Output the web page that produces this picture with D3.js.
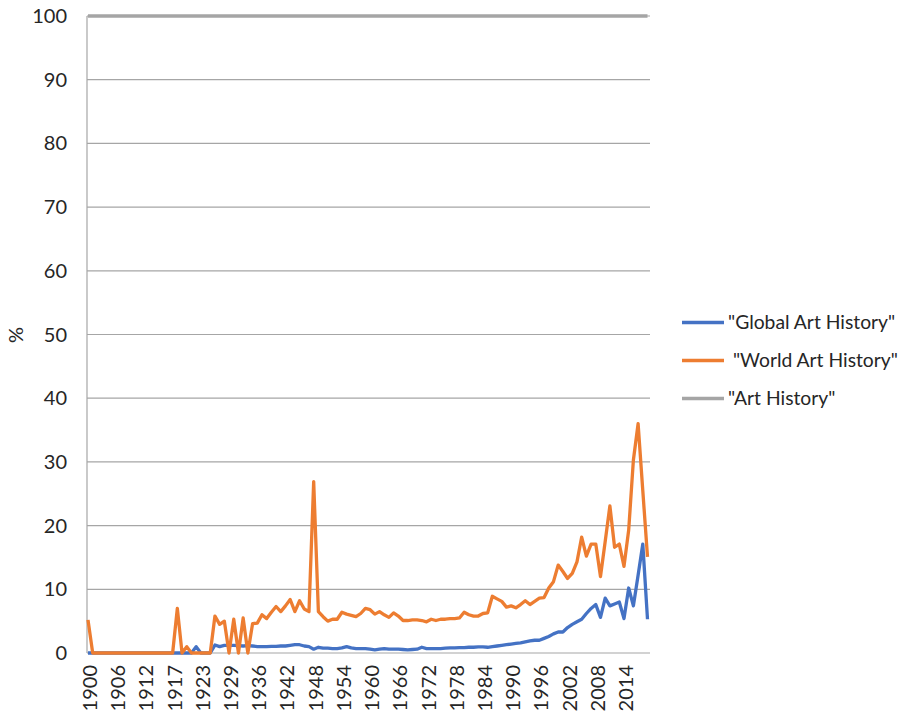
<!DOCTYPE html>
<html>
<head>
<meta charset="utf-8">
<script src="https://cdn.jsdelivr.net/npm/d3@7"></script>
<style>
  body { margin: 0; background: #fff; }
  text { font-family: Lato, "Liberation Sans", sans-serif; fill: #262626; }
</style>
</head>
<body>
<svg id="chart" width="902" height="715"></svg>
<script>
// years along the x axis (as they appear in the source data)
var categories = [
  1900,1901,1902,1903,1904,1905,1906,1907,1908,1909,1910,1911,1912,1913,1913,1914,1915,1916,1917,1918,
  1919,1920,1921,1922,1923,1924,1925,1926,1927,1928,1929,1931,1932,1933,1934,1935,1936,1937,1938,1939,
  1940,1941,1942,1943,1944,1945,1946,1947,1948,1949,1950,1951,1952,1953,1954,1955,1956,1957,1958,1959,
  1960,1961,1962,1963,1964,1965,1966,1967,1968,1969,1970,1971,1972,1973,1974,1975,1976,1977,1978,1979,
  1980,1981,1982,1983,1984,1985,1986,1987,1988,1989,1990,1991,1992,1993,1994,1995,1996,1997,1998,1999,
  2000,2001,2002,2003,2004,2005,2006,2007,2008,2009,2010,2011,2012,2013,2014,2015,2016,2017,2018,2019
];

var globalArt = [
  0,0,0,0,0,0,0,0,0,0,0,0,0,0,0,0,0,0,0,0,
  0,0,0,1.0,0,0,0,1.25,1.0,1.2,1.2,1.2,1.15,1.1,1.15,1.1,1.0,1.0,1.0,1.05,
  1.05,1.1,1.1,1.2,1.3,1.3,1.1,1.0,0.6,0.9,0.75,0.75,0.7,0.7,0.8,1.0,0.8,0.7,0.7,0.7,
  0.6,0.5,0.6,0.7,0.6,0.6,0.6,0.55,0.5,0.55,0.6,0.9,0.7,0.7,0.7,0.7,0.75,0.8,0.8,0.85,
  0.85,0.9,0.9,0.95,0.95,0.9,1.0,1.1,1.2,1.3,1.4,1.5,1.6,1.75,1.9,2.0,2.0,2.3,2.6,3.0,
  3.3,3.3,4.0,4.5,4.9,5.3,6.2,7.0,7.6,5.6,8.6,7.4,7.7,8.0,5.4,10.2,7.4,12.2,17.1,5.3
];

var worldArt = [
  5.2,0,0,0,0,0,0,0,0,0,0,0,0,0,0,0,0,0,0,7.0,
  0,1.0,0,0,0,0,0,5.8,4.5,5.0,0,5.3,0,5.5,0,4.6,4.7,6.0,5.4,6.4,
  7.3,6.5,7.4,8.4,6.5,8.2,6.9,6.5,26.9,6.5,5.7,5.0,5.3,5.3,6.4,6.1,5.9,5.7,6.2,7.0,
  6.8,6.1,6.5,6.0,5.6,6.3,5.8,5.1,5.1,5.2,5.2,5.1,4.9,5.3,5.1,5.3,5.3,5.4,5.4,5.5,
  6.4,6.0,5.8,5.8,6.2,6.3,8.9,8.5,8.1,7.2,7.4,7.1,7.6,8.2,7.6,8.1,8.6,8.7,10.2,11.2,
  13.8,12.8,11.7,12.5,14.3,18.2,15.2,17.1,17.1,12.0,17.5,23.1,16.6,17.1,13.6,19.3,30.3,36.0,25.5,15.1
];

var artHistory = [
  100,100,100,100,100,100,100,100,100,100,100,100,100,100,100,100,100,100,100,100,
  100,100,100,100,100,100,100,100,100,100,100,100,100,100,100,100,100,100,100,100,
  100,100,100,100,100,100,100,100,100,100,100,100,100,100,100,100,100,100,100,100,
  100,100,100,100,100,100,100,100,100,100,100,100,100,100,100,100,100,100,100,100,
  100,100,100,100,100,100,100,100,100,100,100,100,100,100,100,100,100,100,100,100,
  100,100,100,100,100,100,100,100,100,100,100,100,100,100,100,100,100,100,100,100
];

var yTicks = [0,10,20,30,40,50,60,70,80,90,100];

var seriesNames = ['"Global Art History"', ' "World Art History"', '"Art History"'];
var seriesColors = ["#4472c4", "#ed7d31", "#a5a5a5"];

var svg = d3.select("#chart");

var x = d3.scaleLinear()
  .domain([0, categories.length - 1])
  .range([88, 647.5]);

var y = d3.scaleLinear()
  .domain([0, 100])
  .range([653, 16]);

// horizontal gridlines
svg.append("g").selectAll("line")
  .data(yTicks)
  .enter()
  .append("line")
  .attr("x1", 87)
  .attr("x2", 650)
  .attr("y1", function(d) { return y(d); })
  .attr("y2", function(d) { return y(d); })
  .style("stroke", "#a6a6a6")
  .style("stroke-width", 1.2);

// left axis line
svg.append("line")
  .attr("x1", 87).attr("x2", 87)
  .attr("y1", y(100)).attr("y2", y(0))
  .style("stroke", "#a6a6a6")
  .style("stroke-width", 1.2);

// y tick labels
svg.append("g").selectAll("text")
  .data(yTicks)
  .enter()
  .append("text")
  .attr("x", 67)
  .attr("y", function(d) { return y(d); })
  .attr("dy", "0.35em")
  .attr("text-anchor", "end")
  .style("font-size", "20px")
  .text(function(d) { return d; });

// x tick labels, every 6th category, rotated
var xIdx = d3.range(0, categories.length, 6);
svg.append("g").selectAll("text")
  .data(xIdx)
  .enter()
  .append("text")
  .attr("transform", function(i) { return "translate(" + (x(i) + 2) + ",665) rotate(-90)"; })
  .attr("dy", "0.35em")
  .attr("text-anchor", "end")
  .style("font-size", "20px")
  .text(function(i) { return categories[i]; });

// y axis title
svg.append("text")
  .attr("transform", "translate(16,335) rotate(-90)")
  .attr("dy", "0.35em")
  .attr("text-anchor", "middle")
  .style("font-size", "20px")
  .text("%");

var line = d3.line()
  .x(function(d, i) { return x(i); })
  .y(function(d) { return y(d); })
  .curve(d3.curveLinear);

var allSeries = [globalArt, worldArt, artHistory];

// series drawn in order, later ones on top
allSeries.forEach(function(s, k) {
  svg.append("path")
    .datum(s)
    .attr("d", line)
    .style("fill", "none")
    .style("stroke", seriesColors[k])
    .style("stroke-width", 3.3)
    .style("stroke-linejoin", "round");
});

// legend
var legend = svg.append("g").selectAll("g")
  .data(seriesNames)
  .enter()
  .append("g")
  .attr("transform", function(d, i) { return "translate(682," + (322.5 + i * 38) + ")"; });

legend.append("line")
  .attr("x1", 0).attr("x2", 42)
  .attr("y1", 0).attr("y2", 0)
  .style("stroke", function(d, i) { return seriesColors[i]; })
  .style("stroke-width", 3.3);

legend.append("text")
  .attr("x", 46)
  .attr("dy", "0.35em")
  .style("font-size", "19.3px")
  .style("white-space", "pre")
  .attr("xml:space", "preserve")
  .text(function(d) { return d; });
</script>
</body>
</html>
